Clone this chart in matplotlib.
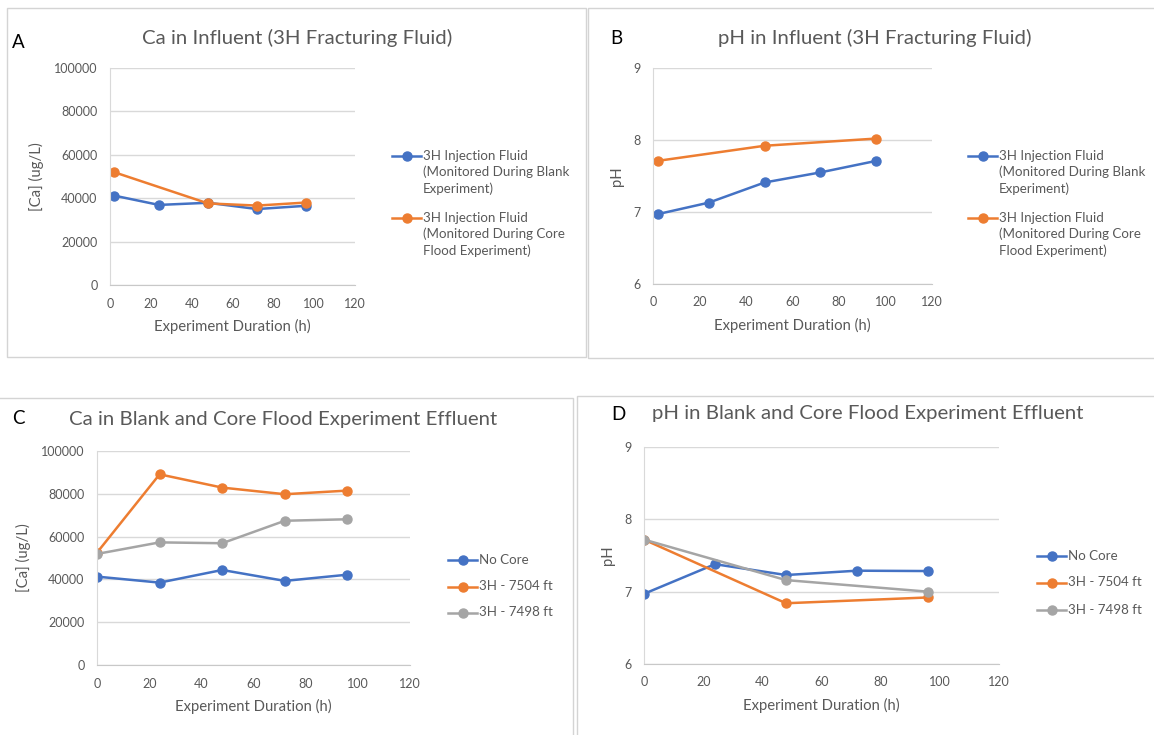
import matplotlib
matplotlib.use("Agg")
import matplotlib.pyplot as plt
from matplotlib.lines import Line2D
from matplotlib.patches import Rectangle

plt.rcParams['font.family'] = ['Lato', 'DejaVu Sans']

# ---------------- data ----------------
hours_a_blank = [2, 24, 48, 72, 96]
ca_a_blank = [41200, 36900, 37900, 35000, 36500]
hours_a_core = [2, 48, 72, 96]
ca_a_core = [52000, 37600, 36600, 38000]

hours_b_blank = [2, 24, 48, 72, 96]
ph_b_blank = [6.97, 7.13, 7.41, 7.55, 7.71]
hours_b_core = [2, 48, 96]
ph_b_core = [7.71, 7.92, 8.02]

hours_c = [0, 24, 48, 72, 96]
ca_c_nocore = [41300, 38500, 44400, 39300, 42200]
ca_c_7504 = [52500, 89100, 82900, 79800, 81500]
ca_c_7498 = [51900, 57300, 56900, 67400, 68100]

hours_d_nocore = [0, 24, 48, 72, 96]
ph_d_nocore = [6.97, 7.38, 7.23, 7.29, 7.285]
hours_d_core = [0, 48, 96]
ph_d_7504 = [7.72, 6.84, 6.92]
ph_d_7498 = [7.72, 7.16, 7.00]

labels_ab = ["3H Injection Fluid\n(Monitored During Blank\nExperiment)",
             "3H Injection Fluid\n(Monitored During Core\nFlood Experiment)"]
labels_cd = ["No Core", "3H - 7504 ft", "3H - 7498 ft"]

titles = ["Ca in Influent (3H Fracturing Fluid)",
          "pH in Influent (3H Fracturing Fluid)",
          "Ca in Blank and Core Flood Experiment Effluent",
          "pH in Blank and Core Flood Experiment Effluent"]
panel_letters = ["A", "B", "C", "D"]
xlabel = "Experiment Duration (h)"
ylabels = ["[Ca] (ug/L)", "pH", "[Ca] (ug/L)", "pH"]
x_ticks = [0, 20, 40, 60, 80, 100, 120]
ca_ticks = [0, 20000, 40000, 60000, 80000, 100000]
ph_ticks = [6, 7, 8, 9]

# ---------------- style ----------------
BLUE = "#4472C4"
ORANGE = "#ED7D31"
GRAY = "#A5A5A5"
TXT = "#595959"
GRID = "#D9D9D9"

W, H = 1154, 735
fig = plt.figure(figsize=(W / 100, H / 100), dpi=100)
fig.patch.set_facecolor("white")


def fx(px):
    return px / W


def fy(py):
    return 1 - py / H


# panel frames
for (x0, y0, x1, y1) in [(7, 8, 586, 357), (588, 8, 1160, 358),
                         (-5, 398, 573, 740), (577, 396, 1160, 740)]:
    fig.add_artist(Rectangle((fx(x0), fy(y1)), fx(x1 - x0), (y1 - y0) / H,
                             transform=fig.transFigure, fill=False,
                             edgecolor="#D4D4D4", lw=1.0))

# axes rectangles in pixels: left, right, top, bottom
rects = [(110, 355, 68, 285), (653, 932, 68, 284),
         (97, 410, 451, 665), (644, 999, 447, 664)]
axes = []
for (l, r, t, b) in rects:
    ax = fig.add_axes([fx(l), fy(b), (r - l) / W, (b - t) / H])
    axes.append(ax)

LW = 1.8
MS = 6.5


def style(ax, yt, ylim, ylab):
    ax.set_xlim(0, 120)
    ax.set_ylim(*ylim)
    ax.set_xticks(x_ticks)
    ax.set_yticks(yt)
    ax.tick_params(length=0, labelsize=9, colors=TXT, pad=9)
    ax.grid(axis="y", color=GRID, lw=1.0)
    ax.set_axisbelow(True)
    for s in ["top", "right"]:
        ax.spines[s].set_visible(False)
    ax.spines["left"].set_color("#D9D9D9")
    ax.spines["bottom"].set_color("#C8C8C8")
    ax.set_xlabel(xlabel, fontsize=10.7, color=TXT, labelpad=7)
    ax.set_ylabel(ylab, fontsize=10.7, color=TXT, labelpad=7)


# A
ax = axes[0]
ax.plot(hours_a_blank, ca_a_blank, color=BLUE, lw=LW, marker="o", ms=MS)
ax.plot(hours_a_core, ca_a_core, color=ORANGE, lw=LW, marker="o", ms=MS)
style(ax, ca_ticks, (0, 100000), ylabels[0])

# B
ax = axes[1]
ax.plot(hours_b_blank, ph_b_blank, color=BLUE, lw=LW, marker="o", ms=MS)
ax.plot(hours_b_core, ph_b_core, color=ORANGE, lw=LW, marker="o", ms=MS)
style(ax, ph_ticks, (6, 9), ylabels[1])

# C
ax = axes[2]
ax.plot(hours_c, ca_c_nocore, color=BLUE, lw=LW, marker="o", ms=MS)
ax.plot(hours_c, ca_c_7504, color=ORANGE, lw=LW, marker="o", ms=MS)
ax.plot(hours_c, ca_c_7498, color=GRAY, lw=LW, marker="o", ms=MS)
style(ax, ca_ticks, (0, 100000), ylabels[2])

# D
ax = axes[3]
ax.plot(hours_d_nocore, ph_d_nocore, color=BLUE, lw=LW, marker="o", ms=MS)
ax.plot(hours_d_core, ph_d_7504, color=ORANGE, lw=LW, marker="o", ms=MS)
ax.plot(hours_d_core, ph_d_7498, color=GRAY, lw=LW, marker="o", ms=MS)
style(ax, ph_ticks, (6, 9), ylabels[3])

# titles and panel letters
title_pos = [(297, 38), (875, 38), (283, 419), (868, 414)]
for t, (x, y) in zip(titles, title_pos):
    fig.text(fx(x), fy(y), t, ha="center", va="center", fontsize=14.7, color=TXT)
letter_pos = [(12, 43), (610, 39), (12, 418), (611, 414)]
for t, (x, y) in zip(panel_letters, letter_pos):
    fig.text(fx(x), fy(y), t, ha="left", va="center", fontsize=13.5, color="black")


# legends (handle aligned to the first text line, as in the source)
def legend_entry(x_line, y, color, label):
    fig.add_artist(Line2D([fx(x_line), fx(x_line + 29)], [fy(y), fy(y)],
                          transform=fig.transFigure, color=color, lw=LW))
    fig.add_artist(Line2D([fx(x_line + 14.5)], [fy(y)], transform=fig.transFigure,
                          color=color, marker="o", ms=MS, lw=0))
    fig.text(fx(x_line + 31), fy(y - 6.5), label, ha="left", va="top", fontsize=9.6,
             color=TXT, linespacing=1.38)


for i, (lab, col) in enumerate(zip(labels_ab, [BLUE, ORANGE])):
    legend_entry(392, 156 + 62 * i, col, lab)
    legend_entry(968, 156 + 62 * i, col, lab)

for i, (lab, col) in enumerate(zip(labels_cd, [BLUE, ORANGE, GRAY])):
    legend_entry(448, 560 + 26.5 * i, col, lab)
    legend_entry(1037, 556 + 27 * i, col, lab)

fig.savefig("out.png", dpi=100, facecolor="white")
